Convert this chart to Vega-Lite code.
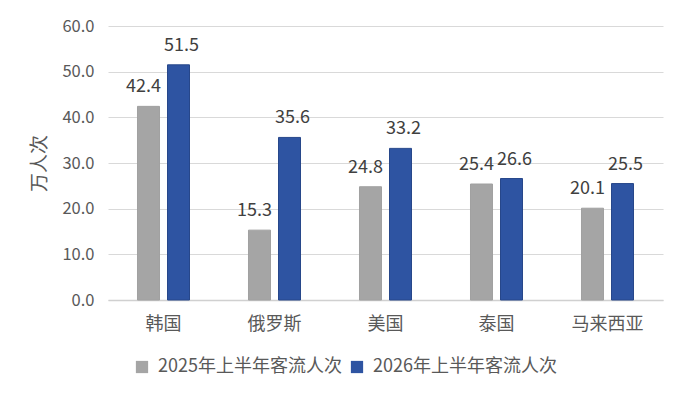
{
  "$schema": "https://vega.github.io/schema/vega-lite/v6.json",
  "width": 555,
  "height": 274,
  "autosize": {"type": "none"},
  "padding": {"left": 108, "top": 26, "right": 37, "bottom": 119},
  "background": "white",
  "config": {
    "font": "Noto Sans CJK SC",
    "view": {"stroke": null}
  },
  "data": {
    "values": [
      {"country": "韩国", "series": "2025年上半年客流人次", "value": 42.4},
      {"country": "韩国", "series": "2026年上半年客流人次", "value": 51.5},
      {"country": "俄罗斯", "series": "2025年上半年客流人次", "value": 15.3},
      {"country": "俄罗斯", "series": "2026年上半年客流人次", "value": 35.6},
      {"country": "美国", "series": "2025年上半年客流人次", "value": 24.8},
      {"country": "美国", "series": "2026年上半年客流人次", "value": 33.2},
      {"country": "泰国", "series": "2025年上半年客流人次", "value": 25.4},
      {"country": "泰国", "series": "2026年上半年客流人次", "value": 26.6},
      {"country": "马来西亚", "series": "2025年上半年客流人次", "value": 20.1},
      {"country": "马来西亚", "series": "2026年上半年客流人次", "value": 25.5}
    ]
  },
  "encoding": {
    "x": {
      "field": "country",
      "type": "nominal",
      "sort": null,
      "title": null,
      "scale": {"paddingInner": 0.5, "paddingOuter": 0.25},
      "axis": {
        "labelAngle": 0,
        "labelFontSize": 18,
        "labelColor": "#595959",
        "labelPadding": 15,
        "ticks": false,
        "domainColor": "#d0d0d0",
        "domainWidth": 1.5
      }
    },
    "xOffset": {
      "field": "series",
      "type": "nominal",
      "scale": {"paddingInner": 0.267, "paddingOuter": 0.058}
    },
    "y": {
      "field": "value",
      "type": "quantitative",
      "scale": {"domain": [0, 60]},
      "title": "万人次",
      "axis": {
        "values": [0, 10, 20, 30, 40, 50, 60],
        "format": ".1f",
        "labelFontSize": 16.5,
        "labelColor": "#595959",
        "labelPadding": 14,
        "ticks": false,
        "domain": false,
        "gridColor": "#d9d9d9",
        "gridWidth": 1.2,
        "titleFontSize": 19,
        "titleFontWeight": "normal",
        "titleColor": "#595959",
        "titlePadding": 12
      }
    }
  },
  "layer": [
    {
      "mark": {"type": "bar", "strokeWidth": 1},
      "encoding": {
        "color": {
          "field": "series",
          "type": "nominal",
          "scale": {"range": ["#a5a5a5", "#2e54a2"]},
          "legend": {
            "title": null,
            "orient": "none",
            "legendX": 25,
            "legendY": 332,
            "direction": "horizontal",
            "symbolType": "square",
            "symbolSize": 150,
            "symbolStrokeWidth": 0,
            "labelFontSize": 18,
            "labelLimit": 400,
            "labelColor": "#595959",
            "labelOffset": 7,
            "columnPadding": 6
          }
        },
        "stroke": {
          "field": "series",
          "type": "nominal",
          "scale": {"range": ["#a0a0a0", "#27478a"]},
          "legend": null
        }
      }
    },
    {
      "transform": [{"filter": "datum.series === '2025年上半年客流人次'"}],
      "mark": {"type": "text", "baseline": "alphabetic", "dy": -14, "dx": -5, "fontSize": 18, "color": "#404040"},
      "encoding": {
        "text": {"field": "value", "type": "quantitative", "format": ".1f"}
      }
    },
    {
      "transform": [{"filter": "datum.series === '2026年上半年客流人次'"}],
      "mark": {"type": "text", "baseline": "alphabetic", "dy": -14, "dx": 3, "fontSize": 18, "color": "#404040"},
      "encoding": {
        "text": {"field": "value", "type": "quantitative", "format": ".1f"}
      }
    }
  ]
}
